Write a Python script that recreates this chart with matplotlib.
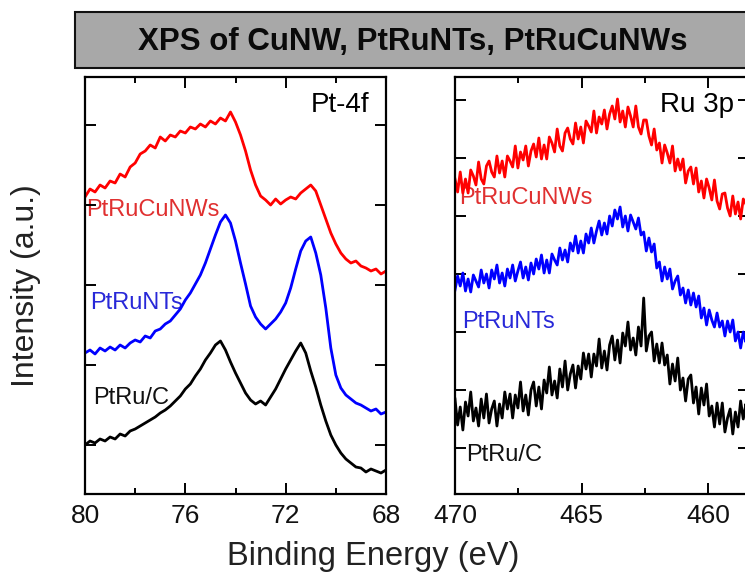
import numpy as np
import matplotlib
matplotlib.use("Agg")
import matplotlib.pyplot as plt
from matplotlib.patches import Rectangle
from matplotlib.ticker import MultipleLocator

plt.rcParams['font.family'] = ['Liberation Sans', 'DejaVu Sans']

# Pt 4f region, binding energy 80 -> 68 eV in 0.2 eV steps
pt_energy = np.linspace(80.0, 68.0, 61)
pt_cunw = [306, 314, 311, 318, 315, 322, 320, 329, 326, 336, 340, 349, 352, 358, 355,
           366, 362, 368, 366, 372, 370, 376, 374, 379, 376, 382, 379, 385, 382, 391,
           381, 368, 352, 333, 318, 307, 303, 298, 304, 299, 303, 306, 304, 310, 314,
           318, 312, 298, 284, 270, 259, 250, 244, 240, 242, 237, 235, 232, 234, 229, 232]
pt_nts = [150, 153, 149, 155, 152, 156, 153, 158, 155, 160, 163, 161, 167, 165, 172,
          174, 179, 182, 188, 194, 203, 210, 219, 228, 240, 254, 268, 281, 288, 280,
          262, 240, 219, 197, 186, 179, 174, 179, 184, 191, 200, 215, 234, 252, 262,
          266, 250, 228, 195, 155, 128, 115, 108, 104, 100, 98, 95, 92, 94, 89, 91]
pt_c = [58, 62, 60, 64, 62, 66, 64, 69, 67, 72, 74, 77, 80, 83, 86,
        90, 93, 97, 102, 107, 114, 119, 127, 134, 143, 150, 158, 162, 153, 141,
        130, 120, 110, 103, 99, 102, 98, 106, 114, 124, 134, 143, 152, 160, 150,
        132, 116, 98, 82, 68, 58, 50, 44, 40, 36, 35, 31, 34, 32, 30, 33]

# Ru 3p region, 470 -> 458.4 eV
ru_energy = np.linspace(470.0, 458.4, 113)
ru_cunw = [324, 311, 331, 310, 324, 310, 333, 327, 318, 341, 324, 319, 337, 342, 331,
           326, 347, 330, 342, 326, 347, 342, 336, 357, 335, 351, 343, 357, 337, 352,
           359, 346, 365, 344, 358, 344, 366, 360, 351, 374, 357, 352, 370, 375, 364,
           359, 380, 364, 376, 360, 382, 377, 371, 392, 370, 386, 379, 393, 374, 389,
           397, 384, 404, 381, 392, 376, 396, 387, 376, 397, 376, 369, 383, 383, 367,
           358, 374, 353, 360, 340, 358, 350, 340, 357, 332, 344, 333, 344, 320, 332,
           336, 319, 335, 311, 322, 305, 324, 315, 303, 323, 302, 294, 309, 310, 295,
           287, 307, 289, 301, 284, 304, 299, 292]
ru_nts = [213, 227, 217, 230, 212, 224, 211, 228, 222, 216, 233, 220, 229, 215, 233,
          224, 238, 220, 230, 217, 234, 225, 238, 222, 232, 241, 225, 236, 223, 240,
          229, 244, 234, 248, 230, 243, 230, 249, 243, 238, 255, 243, 253, 241, 260,
          252, 267, 250, 262, 250, 269, 260, 275, 260, 272, 282, 268, 280, 269, 287,
          277, 293, 284, 296, 276, 287, 272, 288, 281, 274, 285, 268, 271, 252, 265,
          251, 259, 235, 241, 222, 236, 224, 234, 214, 222, 227, 208, 215, 200, 213,
          198, 210, 196, 207, 185, 195, 178, 193, 183, 176, 190, 176, 182, 167, 182,
          171, 183, 162, 171, 155, 171, 161, 173]
ru_c = [104, 78, 96, 73, 101, 87, 111, 82, 95, 77, 104, 85, 109, 80, 94,
        102, 77, 99, 85, 111, 94, 109, 85, 108, 95, 121, 92, 108, 88, 113,
        121, 97, 116, 94, 123, 110, 136, 108, 122, 105, 134, 116, 142, 113, 129,
        138, 115, 137, 124, 150, 134, 149, 126, 149, 137, 164, 135, 152, 133, 158,
        167, 143, 163, 140, 170, 157, 181, 153, 165, 148, 176, 157, 205, 152, 167,
        171, 142, 159, 140, 160, 138, 148, 119, 139, 122, 145, 113, 125, 102, 124,
        128, 100, 116, 89, 115, 98, 119, 87, 97, 76, 100, 79, 100, 71, 85,
        94, 69, 91, 76, 102, 84, 99, 74]

names = ['PtRuCuNWs', 'PtRuNTs', 'PtRu/C']
line_colors = ['#ff0000', '#0000ff', '#000000']
text_colors = ['#e03030', '#2828d8', '#111111']

fig = plt.figure(figsize=(7.45, 5.74), dpi=100)

# gray title banner
fig.patches.append(Rectangle((75 / 745, 1 - 68 / 574), 0.95, 56 / 574, transform=fig.transFigure,
                             facecolor='#a8a8a8', edgecolor='#111111', lw=1.5, zorder=0))
fig.text(413 / 745, 1 - 42 / 574, 'XPS of CuNW, PtRuNTs, PtRuCuNWs', ha='center', va='center',
         fontsize=22.5, fontweight='bold', color='#0a0a0a')

ax1 = fig.add_axes([85 / 745, 1 - 494 / 574, 301 / 745, 417 / 574])
ax2 = fig.add_axes([455 / 745, 1 - 494 / 574, 293.5 / 745, 417 / 574])

for y, c in zip([pt_cunw, pt_nts, pt_c], line_colors):
    ax1.plot(pt_energy, y, color=c, lw=2.0)
for y, c in zip([ru_cunw, ru_nts, ru_c], line_colors):
    ax2.plot(ru_energy, y, color=c, lw=2.0)

ax1.set_xlim(80, 68)
ax2.set_xlim(470, 458.4)
for ax in (ax1, ax2):
    ax.set_ylim(9, 426)
    ax.tick_params(which='both', direction='in', top=True, right=True, labelsize=19,
                   width=1.4, pad=7, labelleft=False, labelcolor='#111111')
    ax.tick_params(which='major', length=8)
    ax.tick_params(which='minor', length=4.5)
    for s in ax.spines.values():
        s.set_linewidth(1.6)

ax1.set_xticks([80, 76, 72, 68])
ax1.xaxis.set_minor_locator(MultipleLocator(2))
ax1.set_yticks([58, 138, 218, 298, 378])
ax2.set_xticks([470, 465, 460])
ax2.xaxis.set_minor_locator(MultipleLocator(2.5))
ax2.set_yticks([55, 113, 171, 229, 287, 345, 403])

# sample labels
for ax, xs, ys in [(ax1, [79.96, 79.8, 79.68], [293, 200, 105]),
                   (ax2, [469.84, 469.72, 469.57], [305, 181, 48])]:
    for n, x, y, c in zip(names, xs, ys, text_colors):
        ax.text(x, y, n, color=c, fontsize=17, ha='left', va='center', zorder=1)
ax1.text(71.0, 398, 'Pt-4f', fontsize=20, ha='left', va='center')
ax2.text(461.9, 398, 'Ru 3p', fontsize=20, ha='left', va='center')

fig.text(26 / 745, 0.503, 'Intensity (a.u.)', rotation=90, ha='center', va='center',
         fontsize=23, color='#222222')
fig.text(373 / 745, 1 - 556 / 574, 'Binding Energy (eV)', ha='center', va='center',
         fontsize=23.5, color='#222222')

fig.savefig('out.png', dpi=100)
